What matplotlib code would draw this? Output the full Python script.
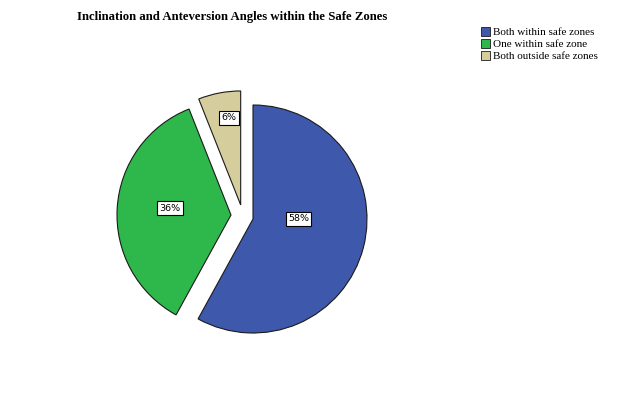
import matplotlib
matplotlib.use("Agg")
import matplotlib.pyplot as plt
import numpy as np

categories = ["Both within safe zones", "One within safe zone", "Both outside safe zones"]
values = [58, 36, 6]
colors = ["#3E59AC", "#2EB84B", "#D5CE9C"]

# wedge centre offsets (in radius units)
offsets = [(0.0, 0.0), (-0.193, 0.035), (-0.108, 0.123)]
# label placement: (distance, angle in degrees) from each wedge centre
label_pos = [(0.40, 0.0), (0.54, 173.5), (0.77, 97.7)]

W, H = 640, 412
R = 114.0
cx, cy = 253.0, 219.0

fig = plt.figure(figsize=(W / 100, H / 100), dpi=100)
ax = fig.add_axes([0, 0, 1, 1])
wedges, _ = ax.pie(values, colors=colors, startangle=90, counterclock=False,
                   radius=1.0,
                   wedgeprops=dict(edgecolor="#1a1a1a", linewidth=0.8))
for w, (dx, dy) in zip(wedges, offsets):
    w.set_center((dx, dy))

for v, (dx, dy), (d, ang) in zip(values, offsets, label_pos):
    a = np.deg2rad(ang)
    ax.text(dx + d * np.cos(a), dy + d * np.sin(a), f"{v}%",
            ha="center", va="center", fontsize=6.8, family="DejaVu Sans",
            bbox=dict(boxstyle="square,pad=0.25", facecolor="white",
                      edgecolor="black", linewidth=0.8))

ax.set_xlim(-cx / R, (W - cx) / R)
ax.set_ylim(-(H - cy) / R, cy / R)
ax.set_aspect("auto")
ax.axis("off")

fig.text(232 / W, 1 - 17 / H, "Inclination and Anteversion Angles within the Safe Zones",
         ha="center", va="center", fontsize=9.2, fontweight="bold",
         family="Liberation Serif")

leg = fig.legend(wedges, categories, loc="upper left",
                 bbox_to_anchor=(481 / W, 1 - 27 / H),
                 frameon=False, prop=dict(family="Liberation Serif", size=8.0),
                 handlelength=0.85, handleheight=0.85, handletextpad=0.25,
                 labelspacing=0.15, borderpad=0, borderaxespad=0)
for h in leg.legend_handles:
    h.set_linewidth(0.6)

fig.savefig("out.png", dpi=100)
